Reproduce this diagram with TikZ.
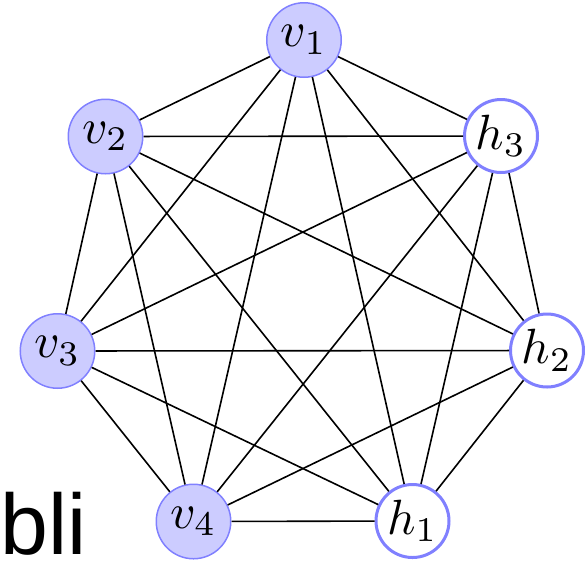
\documentclass[tikz,border=0pt]{standalone}
\usepackage{graphicx}
\usepackage{fontspec}
\newfontfamily\labelfont{Liberation Sans}
\newcommand\nodelab[1]{\scalebox{4.95}{$#1$}}
\begin{document}
\begin{tikzpicture}[x=1pt,y=-1pt,
  vnode/.style={circle,draw=blue!50,fill=blue!20,line width=1.5pt,minimum size=74.5pt,inner sep=0pt},
  hnode/.style={circle,draw=blue!50,fill=white,line width=3pt,minimum size=73pt,inner sep=0pt},
  edge/.style={draw=black,line width=1.6pt}]
\useasboundingbox (0,0) rectangle (585,563);
\node[vnode] (v1) at (304,40) {\nodelab{v_1}};
\node[vnode] (v2) at (105.5,136.5) {\nodelab{v_2}};
\node[hnode] (h3) at (501,136) {\nodelab{h_3}};
\node[vnode] (v3) at (57.5,351) {\nodelab{v_3}};
\node[hnode] (h2) at (547,350.5) {\nodelab{h_2}};
\node[vnode] (v4) at (193.5,521.5) {\nodelab{v_4}};
\node[hnode] (h1) at (412.5,521) {\nodelab{h_1}};
\foreach \a/\b in {v1/v2,v1/h3,v1/v3,v1/h2,v1/v4,v1/h1,
                   v2/h3,v2/v3,v2/h2,v2/v4,v2/h1,
                   h3/v3,h3/h2,h3/v4,h3/h1,
                   v3/h2,v3/v4,v3/h1,
                   h2/v4,h2/h1,
                   v4/h1}
  \draw[edge] (\a) -- (\b);
\node[anchor=base east,inner sep=0pt,font=\labelfont\fontsize{86}{90}\selectfont] (lbl) at (87,554) {bli};
\end{tikzpicture}
\end{document}
